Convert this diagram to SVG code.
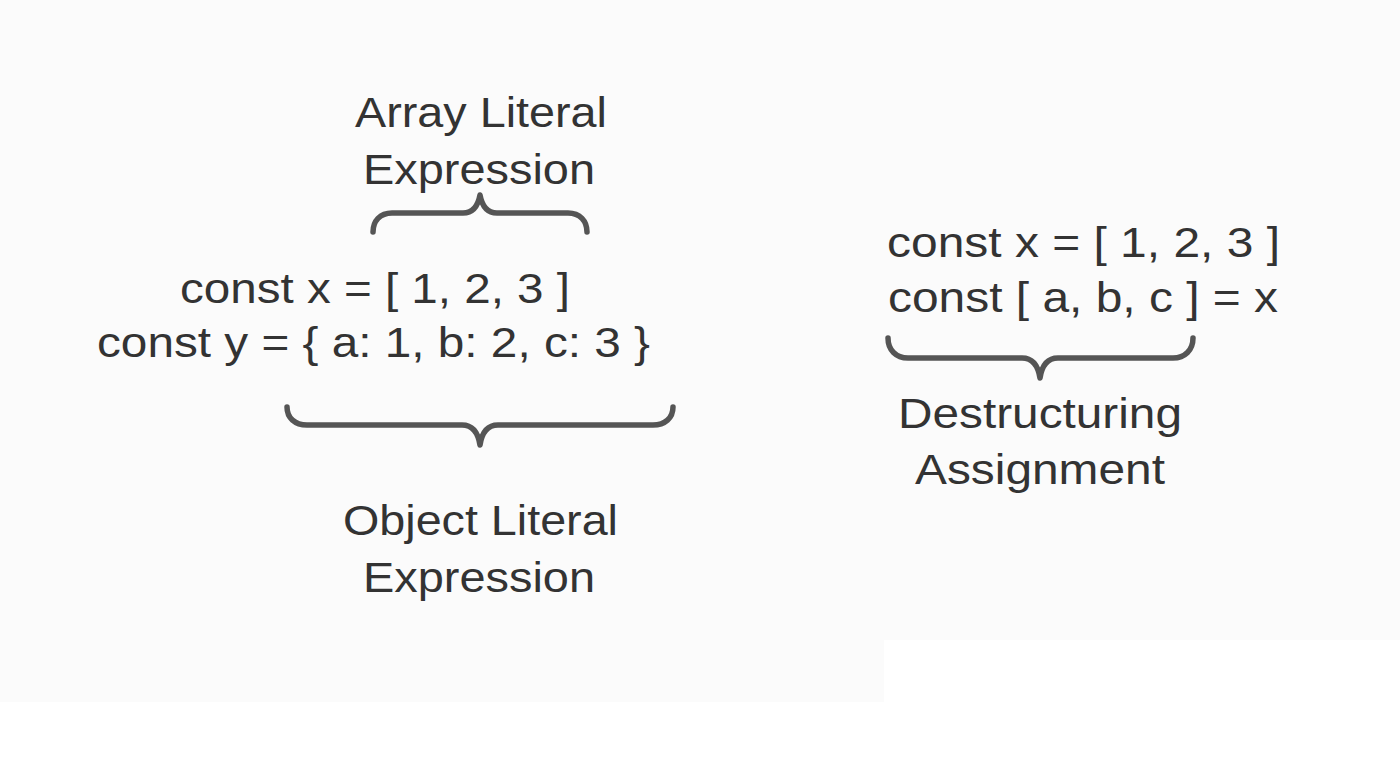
<svg xmlns="http://www.w3.org/2000/svg" width="1400" height="758" viewBox="0 0 1400 758">
  <style>
    .t { font-family: "Liberation Sans", Arial, sans-serif; font-size: 43px; fill: #333333; text-anchor: middle; }
    .brace { fill: none; stroke: #555555; stroke-width: 5.5; stroke-linecap: round; stroke-linejoin: round; }
  </style>
  <rect x="0" y="0" width="1400" height="758" fill="#ffffff"/>
  <rect x="0" y="0" width="1400" height="640" fill="#fbfbfb"/>
  <rect x="0" y="640" width="884" height="62" fill="#fbfbfb"/>

  <g id="code-left">
    <text class="t" x="375" y="303" textLength="390" lengthAdjust="spacingAndGlyphs">const x = [ 1, 2, 3 ]</text>
    <text class="t" x="373.5" y="357" textLength="553" lengthAdjust="spacingAndGlyphs">const y = { a: 1, b: 2, c: 3 }</text>
  </g>

  <g id="code-right">
    <text class="t" x="1083.5" y="257" textLength="393" lengthAdjust="spacingAndGlyphs">const x = [ 1, 2, 3 ]</text>
    <text class="t" x="1083" y="312" textLength="390" lengthAdjust="spacingAndGlyphs">const [ a, b, c ] = x</text>
  </g>

  <g id="label-array">
    <text class="t" x="481" y="127" textLength="252" lengthAdjust="spacingAndGlyphs">Array Literal</text>
    <text class="t" x="479" y="184" textLength="232" lengthAdjust="spacingAndGlyphs">Expression</text>
  </g>

  <g id="label-object">
    <text class="t" x="480.5" y="535" textLength="275" lengthAdjust="spacingAndGlyphs">Object Literal</text>
    <text class="t" x="479" y="592" textLength="232" lengthAdjust="spacingAndGlyphs">Expression</text>
  </g>

  <g id="label-destructuring">
    <text class="t" x="1040" y="428" textLength="284" lengthAdjust="spacingAndGlyphs">Destructuring</text>
    <text class="t" x="1040" y="484" textLength="250" lengthAdjust="spacingAndGlyphs">Assignment</text>
  </g>

  <g id="connectors">
    <path id="brace-array" class="brace" d="M373,232 C373,221 380,213 392,213 L463,213 C473,213 478,206 480,195 C482,206 487,213 497,213 L568,213 C580,213 587,221 587,232"/>
    <path id="brace-object" class="brace" d="M287,407 C287,418 295,425 307,425 L462,425 C472,425 478,432 480,445 C482,432 488,425 498,425 L653,425 C665,425 673,418 673,407"/>
    <path id="brace-destructuring" class="brace" d="M888,338 C888,350 896,358 908,358 L1022,358 C1032,358 1038,365 1040,378 C1042,365 1048,358 1058,358 L1173,358 C1185,358 1193,350 1193,338"/>
  </g>
</svg>
